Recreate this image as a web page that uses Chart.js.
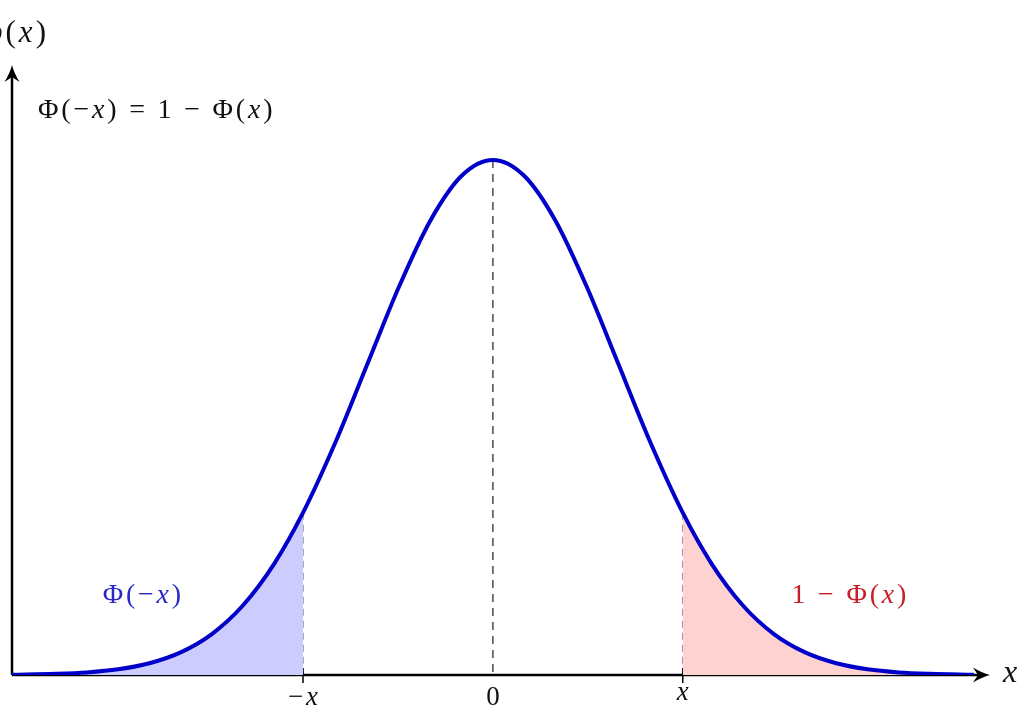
<!DOCTYPE html>
<html>
<head>
<meta charset="utf-8">
<script src="https://cdn.jsdelivr.net/npm/chart.js@4"></script>
<style>
html, body { margin: 0; padding: 0; background: #fff; }
</style>
</head>
<body>
<canvas id="myChart" width="1031" height="719"></canvas>
<script>
// density curve (x in units of sigma)
var xVals = [-3.85, -3.5, -3.25, -3.0, -2.75, -2.5, -2.25, -2.0, -1.75, -1.52, -1.25, -1.0, -0.75, -0.5, -0.25, 0,
             0.25, 0.5, 0.75, 1.0, 1.25, 1.52, 1.75, 2.0, 2.25, 2.5, 2.75, 3.0, 3.25, 3.5, 3.85];
var densVals = [0.0002, 0.0009, 0.0020, 0.0044, 0.0091, 0.0175, 0.0317, 0.0540, 0.0863, 0.1257, 0.1826, 0.2420, 0.3011, 0.3521, 0.3867, 0.3989,
                0.3867, 0.3521, 0.3011, 0.2420, 0.1826, 0.1257, 0.0863, 0.0540, 0.0317, 0.0175, 0.0091, 0.0044, 0.0020, 0.0009, 0.0002];
var cutoff = 1.52;
var tickVals = [-1.52, 0, 1.52];
var tickLabels = ['−x', '0', 'x'];

var curvePts = xVals.map((x, i) => ({ x: x, y: densVals[i] }));
var leftTail = curvePts.filter(p => p.x <= -cutoff);
var rightTail = curvePts.filter(p => p.x >= cutoff);

// draws a formula char by char, letters in italic like TeX math
function mathText(ctx, str, x, y, size, color, align) {
    var chars = str.split('');
    var gap = size * 0.1;
    var fontFor = ch => (/[a-zφ]/.test(ch) ? 'italic ' : '') + size + 'px "Liberation Serif"';
    var w = 0;
    chars.forEach(ch => { ctx.font = fontFor(ch); w += ctx.measureText(ch).width + gap; });
    w -= gap;
    var cx = align === 'center' ? x - w / 2 : (align === 'right' ? x - w : x);
    ctx.fillStyle = color;
    ctx.textBaseline = 'alphabetic';
    ctx.textAlign = 'left';
    chars.forEach(ch => { ctx.font = fontFor(ch); ctx.fillText(ch, cx, y); cx += ctx.measureText(ch).width + gap; });
}

function arrowHead(ctx, tx, ty, angle) {
    ctx.save();
    ctx.translate(tx, ty);
    ctx.rotate(angle);
    ctx.beginPath();
    ctx.moveTo(0, 0);
    ctx.quadraticCurveTo(-8, -2, -17, -7.5);
    ctx.lineTo(-12, 0);
    ctx.lineTo(-17, 7.5);
    ctx.quadraticCurveTo(-8, 2, 0, 0);
    ctx.closePath();
    ctx.fillStyle = '#000';
    ctx.fill();
    ctx.restore();
}

var axesPlugin = {
    id: 'axesPlugin',
    beforeDatasetsDraw(chart) {
        var ctx = chart.ctx, xs = chart.scales.x, ys = chart.scales.y;
        var x0 = xs.getPixelForValue(xs.min), y0 = ys.getPixelForValue(0);
        var xEnd = xs.getPixelForValue(xs.max), yEnd = ys.getPixelForValue(ys.max);
        ctx.save();
        // dashed guides
        ctx.lineWidth = 1.6;
        [-cutoff, 0, cutoff].forEach(v => {
            var i = xVals.indexOf(v);
            ctx.strokeStyle = v === 0 ? '#555' : '#999';
            ctx.setLineDash(v === 0 ? [8, 6] : [7, 5]);
            ctx.beginPath();
            ctx.moveTo(xs.getPixelForValue(v), ys.getPixelForValue(densVals[i]));
            ctx.lineTo(xs.getPixelForValue(v), y0);
            ctx.stroke();
        });
        ctx.setLineDash([]);
        // axes
        ctx.strokeStyle = '#000';
        ctx.lineWidth = 2.5;
        ctx.beginPath();
        ctx.moveTo(x0, y0);
        ctx.lineTo(xEnd - 8, y0);
        ctx.moveTo(x0, y0);
        ctx.lineTo(x0, yEnd + 8);
        ctx.stroke();
        arrowHead(ctx, xEnd, y0, 0);
        arrowHead(ctx, x0, yEnd, -Math.PI / 2);
        // ticks
        ctx.lineWidth = 1.5;
        tickVals.forEach(v => {
            if (v === 0) return;
            var px = xs.getPixelForValue(v);
            ctx.beginPath();
            ctx.moveTo(px, y0 - 7);
            ctx.lineTo(px, y0 + 8);
            ctx.stroke();
        });
        ctx.restore();
    },
    afterDatasetsDraw(chart) {
        var ctx = chart.ctx, xs = chart.scales.x, ys = chart.scales.y;
        var y0 = ys.getPixelForValue(0);
        ctx.save();
        tickVals.forEach((v, i) => {
            var shift = tickLabels[i] === 'x' ? -5 : 0;
            mathText(ctx, tickLabels[i], xs.getPixelForValue(v), y0 + 30 + shift, 27, '#111', 'center');
        });
        mathText(ctx, 'x', 1003, 682, 32, '#111', 'left');
        mathText(ctx, 'φ(x)', 46, 42, 31, '#111', 'right');
        mathText(ctx, 'Φ(−x) = 1 − Φ(x)', 38, 118, 28, '#111', 'left');
        mathText(ctx, 'Φ(−x)', xs.getPixelForValue(-2.81), ys.getPixelForValue(0.0558), 28, 'rgb(40,40,200)', 'center');
        mathText(ctx, '1 − Φ(x)', xs.getPixelForValue(2.85), ys.getPixelForValue(0.0558), 28, 'rgb(200,30,40)', 'center');
        ctx.restore();
    }
};

var ctx = document.getElementById('myChart').getContext('2d');
var myChart = new Chart(ctx, {
    type: 'line',
    data: {
        datasets: [
            {
                data: curvePts,
                borderColor: 'rgb(0,0,200)',
                borderWidth: 4,
                cubicInterpolationMode: 'monotone',
                fill: false
            },
            {
                data: leftTail,
                borderWidth: 0,
                borderColor: 'rgba(0,0,0,0)',
                backgroundColor: 'rgb(204,204,255)',
                cubicInterpolationMode: 'monotone',
                fill: 'origin'
            },
            {
                data: rightTail,
                borderWidth: 0,
                borderColor: 'rgba(0,0,0,0)',
                backgroundColor: 'rgb(255,210,210)',
                cubicInterpolationMode: 'monotone',
                fill: 'origin'
            }
        ]
    },
    options: {
        responsive: false,
        animation: false,
        layout: { padding: { left: 12, right: 41, top: 65, bottom: 44 } },
        plugins: { legend: { display: false }, tooltip: { enabled: false } },
        elements: { point: { radius: 0 } },
        scales: {
            x: { type: 'linear', min: -3.85, max: 3.98, display: false },
            y: { min: 0, max: 0.4725, display: false }
        }
    },
    plugins: [axesPlugin]
});
</script>
</body>
</html>
